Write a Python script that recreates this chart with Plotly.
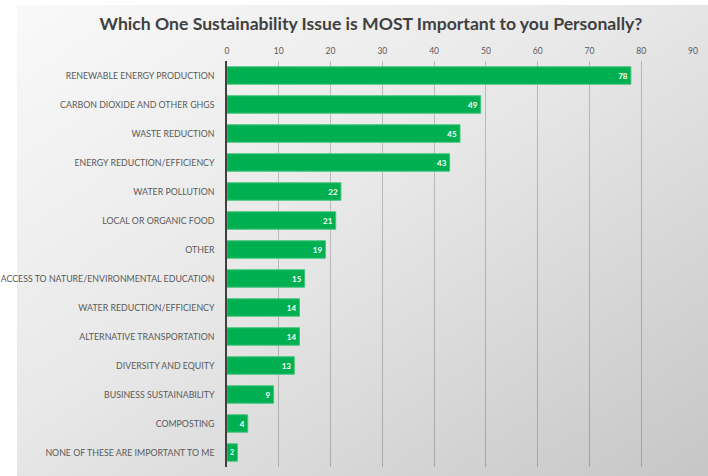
import plotly.graph_objects as go
import base64

categories = [
    "RENEWABLE ENERGY PRODUCTION",
    "CARBON DIOXIDE AND OTHER GHGS",
    "WASTE REDUCTION",
    "ENERGY REDUCTION/EFFICIENCY",
    "WATER POLLUTION",
    "LOCAL OR ORGANIC FOOD",
    "OTHER",
    "ACCESS TO NATURE/ENVIRONMENTAL EDUCATION",
    "WATER REDUCTION/EFFICIENCY",
    "ALTERNATIVE TRANSPORTATION",
    "DIVERSITY AND EQUITY",
    "BUSINESS SUSTAINABILITY",
    "COMPOSTING",
    "NONE OF THESE ARE IMPORTANT TO ME",
]
values = [78, 49, 45, 43, 22, 21, 19, 15, 14, 14, 13, 9, 4, 2]
tick_vals = [0, 10, 20, 30, 40, 50, 60, 70, 80, 90]

W, H = 708, 476
L, R, T, B = 227, 15, 61, 9
pw, ph = W - L - R, H - T - B

svg = ('<svg xmlns="http://www.w3.org/2000/svg" width="691" height="471" preserveAspectRatio="none">'
       '<defs><linearGradient id="g" x1="0" y1="0" x2="1" y2="1">'
       '<stop offset="0" stop-color="#f9f9f9"/><stop offset="0.45" stop-color="#e8e8e8"/>'
       '<stop offset="1" stop-color="#c6c6c6"/></linearGradient></defs>'
       '<rect width="691" height="471" fill="url(#g)"/></svg>')
uri = "data:image/svg+xml;base64," + base64.b64encode(svg.encode()).decode()

fig = go.Figure(go.Bar(
    y=categories, x=values, orientation="h",
    marker=dict(color="#00b050", line=dict(color="#3fc47a", width=1)),
    text=values, textposition="inside", insidetextanchor="end",
    textfont=dict(color="white", size=8, family="Lato", weight="bold"),
    cliponaxis=False,
))

x0 = (17 - L) / pw
x1 = (708 - L) / pw
y0 = (H - B - 476) / ph
y1 = (H - B - 5) / ph
fig.add_layout_image(dict(source=uri, xref="paper", yref="paper", x=x0, y=y1,
                          sizex=x1 - x0, sizey=y1 - y0, sizing="stretch",
                          xanchor="left", yanchor="top", layer="below"))

fig.update_layout(
    width=W, height=H,
    margin=dict(l=L, r=R, t=T, b=B, autoexpand=False),
    paper_bgcolor="white", plot_bgcolor="rgba(0,0,0,0)",
    bargap=0.4,
    showlegend=False,
    font=dict(family="Lato", color="#595959"),
    title=dict(text="<b>Which One Sustainability Issue is MOST Important to you Personally?</b>",
               x=371 / W, xref="container", xanchor="center",
               y=1 - 24 / H, yref="container", yanchor="middle",
               font=dict(size=17.6, color="#404040", family="Lato")),
    xaxis=dict(range=[0, 90], side="top", tickvals=tick_vals, showgrid=True,
               gridcolor="rgba(0,0,0,0.2)", gridwidth=1, zeroline=False, showline=False,
               tickfont=dict(size=8.5, color="#595959"), ticks="", fixedrange=True,
               automargin=False, ticklabelstandoff=4),
    yaxis=dict(autorange="reversed", showline=True, linecolor="#404040", linewidth=1.5,
               tickfont=dict(size=8.8, color="#595959"), ticks="", ticklabelstandoff=9,
               fixedrange=True, automargin=False),
)

fig.write_html("out.html", config={"displayModeBar": False},
               post_script="document.body.style.margin='0';document.body.style.overflow='hidden';")
